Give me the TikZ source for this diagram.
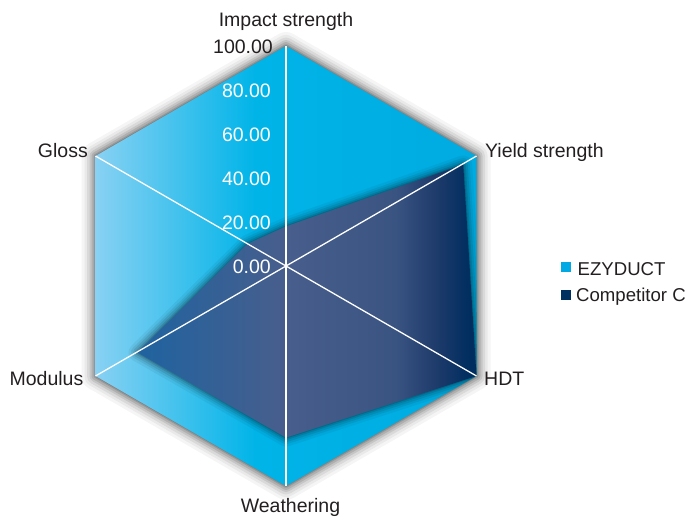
\documentclass[tikz,border=0pt]{standalone}
\usepackage{fontspec}
\setmainfont{Liberation Sans}
\definecolor{ezyL}{HTML}{88D1F3}
\definecolor{ezyM}{HTML}{00B4E8}
\definecolor{ezyR}{HTML}{00ABE1}
\definecolor{cL}{HTML}{1F63A0}
\definecolor{cM}{HTML}{485E8C}
\definecolor{cM2}{HTML}{3A5482}
\definecolor{cM3}{HTML}{1E3B6B}
\definecolor{cR}{HTML}{002D5F}
\definecolor{txt}{HTML}{231F20}
\definecolor{legA}{HTML}{00A9E3}
\definecolor{legB}{HTML}{00305F}
\pgfdeclarehorizontalshading{ezyshade}{100bp}{color(0bp)=(ezyL); color(25bp)=(ezyL); color(46bp)=(ezyM); color(75bp)=(ezyR); color(100bp)=(ezyR)}
\pgfdeclarehorizontalshading{compshade}{100bp}{color(0bp)=(cL); color(25bp)=(cL); color(47bp)=(cM); color(63bp)=(cM2); color(69bp)=(cM3); color(74bp)=(cR); color(100bp)=(cR)}
\tikzset{
  lbl/.style={text=txt, inner sep=0pt, font=\fontsize{19.5}{22}\selectfont},
  tick/.style={inner sep=0pt, anchor=east, font=\fontsize{19.5}{22}\selectfont},
  leg/.style={text=txt, inner sep=0pt, anchor=base west, font=\fontsize{18.6}{20}\selectfont},
  axisline/.style={draw=white, line width=1.3pt},
}
\begin{document}
\begin{tikzpicture}[x=1pt,y=-1pt]
\path[use as bounding box] (0,0) rectangle (689,520);
% vertices
\coordinate (imp) at (286,46);
\coordinate (yld) at (476.5,156);
\coordinate (hdt) at (476.5,376);
\coordinate (wea) at (286,486);
\coordinate (mod) at (95.5,376);
\coordinate (glo) at (95.5,156);
\coordinate (ctr) at (286,266);
% competitor points
\coordinate (cimp) at (286,226.4);
\coordinate (cyld) at (463.2,164.5);
\coordinate (chdt) at (476.5,376);
\coordinate (cwea) at (286,437.6);
\coordinate (cmod) at (137.4,352.5);
\coordinate (cglo) at (247.2,244);
% hexagon shadow
\foreach \w/\o in {28/0.04,22/0.05,17/0.07,12/0.09,8/0.11,4/0.13,1.5/0.15}{
  \draw[black, opacity=\o, line width=\w pt, line join=round, xshift=1.5pt, yshift=-2pt]
    (imp) -- (yld) -- (hdt) -- (wea) -- (mod) -- (glo) -- cycle;
}
% EZYDUCT
\shade[shading=ezyshade] (imp) -- (yld) -- (hdt) -- (wea) -- (mod) -- (glo) -- cycle;
% competitor shadow
\begin{scope}
\clip (imp) -- (yld) -- (hdt) -- (wea) -- (mod) -- (glo) -- cycle;
\foreach \w/\o in {18/0.05,13/0.07,9/0.09,5/0.11,2/0.14}{
  \draw[black, opacity=\o, line width=\w pt, line join=round, xshift=1.5pt, yshift=-3pt]
    (cimp) -- (cyld) -- (chdt) -- (cwea) -- (cmod) -- (cglo) -- cycle;
}
\end{scope}
% Competitor C
\shade[shading=compshade] (cimp) -- (cyld) -- (chdt) -- (cwea) -- (cmod) -- (cglo) -- cycle;
% axes
\draw[axisline] (imp) -- (wea);
\draw[axisline] (yld) -- (mod);
\draw[axisline] (glo) -- (hdt);
% tick labels
\node[tick, text=txt] (t100) at (273,47) {100.00};
\node[tick, text=white] (t80) at (271,91) {80.00};
\node[tick, text=white] (t60) at (271,135) {60.00};
\node[tick, text=white] (t40) at (271,179) {40.00};
\node[tick, text=white] (t20) at (271,223) {20.00};
\node[tick, text=white] (t0) at (271,267) {0.00};
% axis labels
\node[lbl, anchor=base] (limp) at (286,26.5) {Impact strength};
\node[lbl, anchor=base west] (lyld) at (485,157.5) {Yield strength};
\node[lbl, anchor=base west] (lhdt) at (484,385) {HDT};
\node[lbl, anchor=base] (lwea) at (290.5,512) {Weathering};
\node[lbl, anchor=base east] (lmod) at (83.5,385) {Modulus};
\node[lbl, anchor=base east] (lglo) at (88,157.5) {Gloss};
% legend
\fill[legA] (561,262.3) rectangle (571,272.3);
\fill[legB] (561,289.5) rectangle (571,299.8);
\node[leg] (legezy) at (577.5,275) {EZYDUCT};
\node[leg] (legcomp) at (576,301.7) {Competitor C};
\end{tikzpicture}
\end{document}
